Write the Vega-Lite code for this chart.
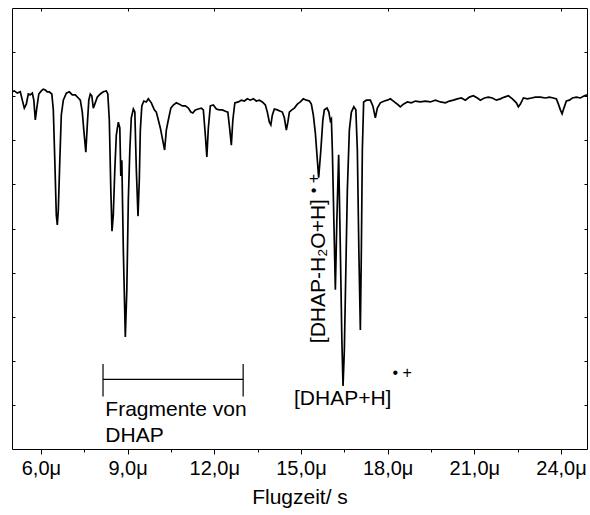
{
  "$schema": "https://vega.github.io/schema/vega-lite/v6.json",
  "width": 575,
  "height": 441,
  "autosize": {"type": "none"},
  "padding": {"left": 12, "top": 8, "right": 3, "bottom": 66},
  "background": "white",
  "config": {
    "view": {"stroke": "black", "strokeWidth": 1},
    "font": "Liberation Sans",
    "axis": {"grid": false, "domain": false, "tickColor": "black", "labelColor": "black", "titleColor": "black", "labelFont": "Liberation Sans", "titleFont": "Liberation Sans"}
  },
  "datasets": {
    "spec": [
      {"t": 5.000, "v": 8.10}, {"t": 5.080, "v": 8.12}, {"t": 5.183, "v": 8.07}, {"t": 5.287, "v": 8.10}, {"t": 5.357, "v": 7.91}, {"t": 5.426, "v": 7.73}, {"t": 5.495, "v": 7.82}, {"t": 5.564, "v": 8.05}, {"t": 5.633, "v": 8.03}, {"t": 5.703, "v": 8.07}, {"t": 5.755, "v": 7.91}, {"t": 5.807, "v": 7.46}, {"t": 5.858, "v": 7.73}, {"t": 5.928, "v": 8.05}, {"t": 6.014, "v": 8.12}, {"t": 6.083, "v": 8.16}, {"t": 6.153, "v": 8.14}, {"t": 6.222, "v": 8.10}, {"t": 6.291, "v": 8.10}, {"t": 6.378, "v": 8.05}, {"t": 6.430, "v": 7.69}, {"t": 6.481, "v": 6.55}, {"t": 6.533, "v": 5.31}, {"t": 6.568, "v": 5.08}, {"t": 6.603, "v": 5.42}, {"t": 6.655, "v": 6.55}, {"t": 6.706, "v": 7.57}, {"t": 6.776, "v": 7.91}, {"t": 6.880, "v": 8.07}, {"t": 6.983, "v": 8.10}, {"t": 7.087, "v": 8.03}, {"t": 7.191, "v": 8.03}, {"t": 7.295, "v": 7.96}, {"t": 7.364, "v": 7.91}, {"t": 7.433, "v": 7.64}, {"t": 7.485, "v": 7.23}, {"t": 7.555, "v": 6.73}, {"t": 7.606, "v": 7.35}, {"t": 7.658, "v": 7.91}, {"t": 7.710, "v": 8.05}, {"t": 7.762, "v": 8.01}, {"t": 7.814, "v": 7.73}, {"t": 7.866, "v": 7.82}, {"t": 7.953, "v": 7.98}, {"t": 8.056, "v": 8.05}, {"t": 8.160, "v": 8.10}, {"t": 8.264, "v": 8.12}, {"t": 8.316, "v": 8.05}, {"t": 8.368, "v": 7.46}, {"t": 8.420, "v": 5.87}, {"t": 8.461, "v": 4.94}, {"t": 8.506, "v": 5.31}, {"t": 8.558, "v": 6.33}, {"t": 8.610, "v": 7.12}, {"t": 8.680, "v": 7.41}, {"t": 8.731, "v": 7.28}, {"t": 8.766, "v": 6.19}, {"t": 8.801, "v": 6.55}, {"t": 8.853, "v": 4.51}, {"t": 8.922, "v": 2.54}, {"t": 8.974, "v": 3.61}, {"t": 9.026, "v": 5.65}, {"t": 9.078, "v": 6.78}, {"t": 9.129, "v": 7.51}, {"t": 9.199, "v": 7.71}, {"t": 9.251, "v": 7.64}, {"t": 9.303, "v": 6.33}, {"t": 9.361, "v": 5.28}, {"t": 9.406, "v": 6.10}, {"t": 9.441, "v": 7.23}, {"t": 9.493, "v": 7.78}, {"t": 9.562, "v": 7.89}, {"t": 9.649, "v": 7.87}, {"t": 9.718, "v": 7.94}, {"t": 9.822, "v": 7.85}, {"t": 9.926, "v": 7.69}, {"t": 9.995, "v": 7.64}, {"t": 10.064, "v": 7.46}, {"t": 10.133, "v": 7.28}, {"t": 10.202, "v": 7.05}, {"t": 10.282, "v": 6.78}, {"t": 10.341, "v": 7.23}, {"t": 10.410, "v": 7.46}, {"t": 10.497, "v": 7.73}, {"t": 10.583, "v": 7.80}, {"t": 10.687, "v": 7.85}, {"t": 10.791, "v": 7.82}, {"t": 10.895, "v": 7.78}, {"t": 10.999, "v": 7.78}, {"t": 11.103, "v": 7.73}, {"t": 11.189, "v": 7.64}, {"t": 11.258, "v": 7.62}, {"t": 11.345, "v": 7.69}, {"t": 11.449, "v": 7.71}, {"t": 11.553, "v": 7.73}, {"t": 11.622, "v": 7.69}, {"t": 11.691, "v": 7.12}, {"t": 11.743, "v": 6.62}, {"t": 11.795, "v": 7.28}, {"t": 11.864, "v": 7.78}, {"t": 11.968, "v": 7.80}, {"t": 12.072, "v": 7.71}, {"t": 12.176, "v": 7.69}, {"t": 12.279, "v": 7.69}, {"t": 12.383, "v": 7.66}, {"t": 12.470, "v": 7.64}, {"t": 12.539, "v": 7.23}, {"t": 12.591, "v": 6.89}, {"t": 12.643, "v": 7.46}, {"t": 12.712, "v": 7.85}, {"t": 12.833, "v": 7.87}, {"t": 12.937, "v": 7.91}, {"t": 13.041, "v": 7.89}, {"t": 13.145, "v": 7.94}, {"t": 13.249, "v": 7.91}, {"t": 13.353, "v": 7.94}, {"t": 13.456, "v": 7.89}, {"t": 13.560, "v": 7.91}, {"t": 13.664, "v": 7.87}, {"t": 13.768, "v": 7.80}, {"t": 13.837, "v": 7.64}, {"t": 13.907, "v": 7.41}, {"t": 13.958, "v": 7.35}, {"t": 14.010, "v": 7.57}, {"t": 14.079, "v": 7.71}, {"t": 14.183, "v": 7.69}, {"t": 14.287, "v": 7.66}, {"t": 14.356, "v": 7.64}, {"t": 14.426, "v": 7.51}, {"t": 14.495, "v": 7.23}, {"t": 14.547, "v": 7.41}, {"t": 14.599, "v": 7.64}, {"t": 14.685, "v": 7.69}, {"t": 14.772, "v": 7.73}, {"t": 14.876, "v": 7.82}, {"t": 14.979, "v": 7.87}, {"t": 15.083, "v": 7.94}, {"t": 15.187, "v": 7.91}, {"t": 15.291, "v": 7.89}, {"t": 15.360, "v": 7.82}, {"t": 15.429, "v": 7.57}, {"t": 15.498, "v": 7.17}, {"t": 15.613, "v": 6.15}, {"t": 15.689, "v": 6.78}, {"t": 15.758, "v": 7.46}, {"t": 15.810, "v": 7.69}, {"t": 15.903, "v": 7.73}, {"t": 15.966, "v": 7.64}, {"t": 16.018, "v": 7.44}, {"t": 16.053, "v": 7.48}, {"t": 16.087, "v": 6.78}, {"t": 16.139, "v": 5.19}, {"t": 16.191, "v": 3.61}, {"t": 16.243, "v": 5.19}, {"t": 16.305, "v": 6.67}, {"t": 16.364, "v": 4.51}, {"t": 16.416, "v": 2.47}, {"t": 16.457, "v": 1.43}, {"t": 16.502, "v": 2.24}, {"t": 16.554, "v": 4.06}, {"t": 16.606, "v": 5.87}, {"t": 16.675, "v": 7.23}, {"t": 16.745, "v": 7.64}, {"t": 16.831, "v": 7.76}, {"t": 16.900, "v": 7.69}, {"t": 16.952, "v": 6.78}, {"t": 17.004, "v": 4.51}, {"t": 17.056, "v": 2.70}, {"t": 17.091, "v": 4.51}, {"t": 17.125, "v": 6.78}, {"t": 17.170, "v": 7.87}, {"t": 17.264, "v": 7.91}, {"t": 17.402, "v": 7.91}, {"t": 17.489, "v": 7.78}, {"t": 17.575, "v": 7.51}, {"t": 17.644, "v": 7.73}, {"t": 17.748, "v": 7.85}, {"t": 17.887, "v": 7.89}, {"t": 17.990, "v": 7.91}, {"t": 18.094, "v": 7.94}, {"t": 18.233, "v": 7.87}, {"t": 18.371, "v": 7.80}, {"t": 18.440, "v": 7.76}, {"t": 18.544, "v": 7.82}, {"t": 18.683, "v": 7.87}, {"t": 18.821, "v": 7.85}, {"t": 18.960, "v": 7.89}, {"t": 19.133, "v": 7.87}, {"t": 19.306, "v": 7.89}, {"t": 19.479, "v": 7.87}, {"t": 19.652, "v": 7.91}, {"t": 19.825, "v": 7.87}, {"t": 19.998, "v": 7.85}, {"t": 20.137, "v": 7.89}, {"t": 20.275, "v": 7.91}, {"t": 20.413, "v": 7.94}, {"t": 20.552, "v": 7.96}, {"t": 20.690, "v": 7.91}, {"t": 20.829, "v": 7.98}, {"t": 20.967, "v": 8.01}, {"t": 21.106, "v": 7.96}, {"t": 21.210, "v": 7.91}, {"t": 21.348, "v": 7.96}, {"t": 21.487, "v": 7.98}, {"t": 21.625, "v": 7.96}, {"t": 21.764, "v": 7.91}, {"t": 21.902, "v": 7.94}, {"t": 22.041, "v": 7.98}, {"t": 22.179, "v": 8.01}, {"t": 22.318, "v": 7.94}, {"t": 22.456, "v": 7.85}, {"t": 22.525, "v": 7.76}, {"t": 22.595, "v": 7.82}, {"t": 22.699, "v": 7.96}, {"t": 22.837, "v": 7.94}, {"t": 22.976, "v": 7.96}, {"t": 23.114, "v": 7.98}, {"t": 23.287, "v": 7.98}, {"t": 23.460, "v": 7.96}, {"t": 23.598, "v": 7.98}, {"t": 23.737, "v": 7.96}, {"t": 23.841, "v": 7.94}, {"t": 23.910, "v": 7.82}, {"t": 23.979, "v": 7.69}, {"t": 24.038, "v": 7.60}, {"t": 24.100, "v": 7.73}, {"t": 24.187, "v": 7.89}, {"t": 24.291, "v": 7.91}, {"t": 24.395, "v": 7.96}, {"t": 24.533, "v": 7.98}, {"t": 24.672, "v": 7.96}, {"t": 24.810, "v": 8.01}, {"t": 24.900, "v": 8.03}
    ],
    "bracketH": [{"x1": 8.15, "x2": 13.0, "y": 1.58}],
    "bracketV": [{"x": 8.15, "y1": 1.19, "y2": 1.93}, {"x": 13.0, "y1": 1.19, "y2": 1.93}],
    "labels": [
      {"x": 8.23, "y": 0.755, "label": "Fragmente von"},
      {"x": 8.23, "y": 0.166, "label": "DHAP"},
      {"x": 14.76, "y": 1.0, "label": "[DHAP+H]"}
    ],
    "rotLabel": [{"x": 15.845, "y": 2.40, "label": "[DHAP-H₂O+H]"}],
    "sup": [{"x": 18.17, "y": 1.62, "label": "• +"}],
    "rotSup": [{"x": 15.62, "y": 5.80, "label": "• +"}]
  },
  "layer": [
    {
      "data": {"name": "spec"},
      "mark": {"type": "line", "color": "black", "strokeWidth": 1.7, "clip": true},
      "encoding": {
        "x": {"field": "t", "type": "quantitative", "scale": {"domain": [5, 24.9], "nice": false, "zero": false},
          "axis": {"orient": "bottom", "values": [6, 9, 12, 15, 18, 21, 24], "labelExpr": "replace(format(datum.value, '.1f'), '.', ',') + 'μ'", "labelFontSize": 20, "labelPadding": 4, "tickSize": 5, "title": "Flugzeit/ s", "titleFontSize": 21, "titleFontWeight": "normal", "titlePadding": 8}},
        "y": {"field": "v", "type": "quantitative", "scale": {"domain": [0, 10], "nice": false, "zero": false},
          "axis": {"orient": "left", "values": [1, 2, 3, 4, 5, 6, 7, 8, 9], "labels": false, "tickSize": -3, "title": null}}
      }
    },
    {
      "data": {"name": "bracketH"},
      "mark": {"type": "rule", "color": "black", "strokeWidth": 1.2},
      "encoding": {
        "x": {"field": "x1", "type": "quantitative", "axis": {"orient": "bottom", "values": [7.5, 10.5, 13.5, 16.5, 19.5, 22.5], "labels": false, "tickSize": 3, "title": null}},
        "x2": {"field": "x2"},
        "y": {"field": "y", "type": "quantitative", "axis": {"orient": "right", "values": [1, 2, 3, 4, 5, 6, 7, 8, 9], "labels": false, "tickSize": -3, "title": null}}
      }
    },
    {
      "data": {"name": "bracketV"},
      "mark": {"type": "rule", "color": "black", "strokeWidth": 1.2},
      "encoding": {
        "x": {"field": "x", "type": "quantitative", "axis": {"orient": "top", "values": [6, 9, 12, 15, 18, 21, 24], "labels": false, "tickSize": -3, "title": null}},
        "y": {"field": "y1", "type": "quantitative", "axis": null},
        "y2": {"field": "y2"}
      }
    },
    {
      "data": {"name": "labels"},
      "mark": {"type": "text", "fontSize": 21, "align": "left", "baseline": "alphabetic", "color": "black", "font": "Liberation Sans"},
      "encoding": {
        "x": {"field": "x", "type": "quantitative", "axis": null},
        "y": {"field": "y", "type": "quantitative", "axis": null},
        "text": {"field": "label"}
      }
    },
    {
      "data": {"name": "rotLabel"},
      "mark": {"type": "text", "fontSize": 21, "align": "left", "baseline": "alphabetic", "angle": 270, "color": "black", "font": "Liberation Sans"},
      "encoding": {
        "x": {"field": "x", "type": "quantitative", "axis": null},
        "y": {"field": "y", "type": "quantitative", "axis": null},
        "text": {"field": "label"}
      }
    },
    {
      "data": {"name": "sup"},
      "mark": {"type": "text", "fontSize": 16, "align": "left", "baseline": "alphabetic", "color": "black", "font": "Liberation Sans"},
      "encoding": {
        "x": {"field": "x", "type": "quantitative", "axis": null},
        "y": {"field": "y", "type": "quantitative", "axis": null},
        "text": {"field": "label"}
      }
    },
    {
      "data": {"name": "rotSup"},
      "mark": {"type": "text", "fontSize": 16, "align": "left", "baseline": "alphabetic", "angle": 270, "color": "black", "font": "Liberation Sans"},
      "encoding": {
        "x": {"field": "x", "type": "quantitative", "axis": null},
        "y": {"field": "y", "type": "quantitative", "axis": null},
        "text": {"field": "label"}
      }
    }
  ],
  "resolve": {"axis": {"x": "independent", "y": "independent"}}
}
